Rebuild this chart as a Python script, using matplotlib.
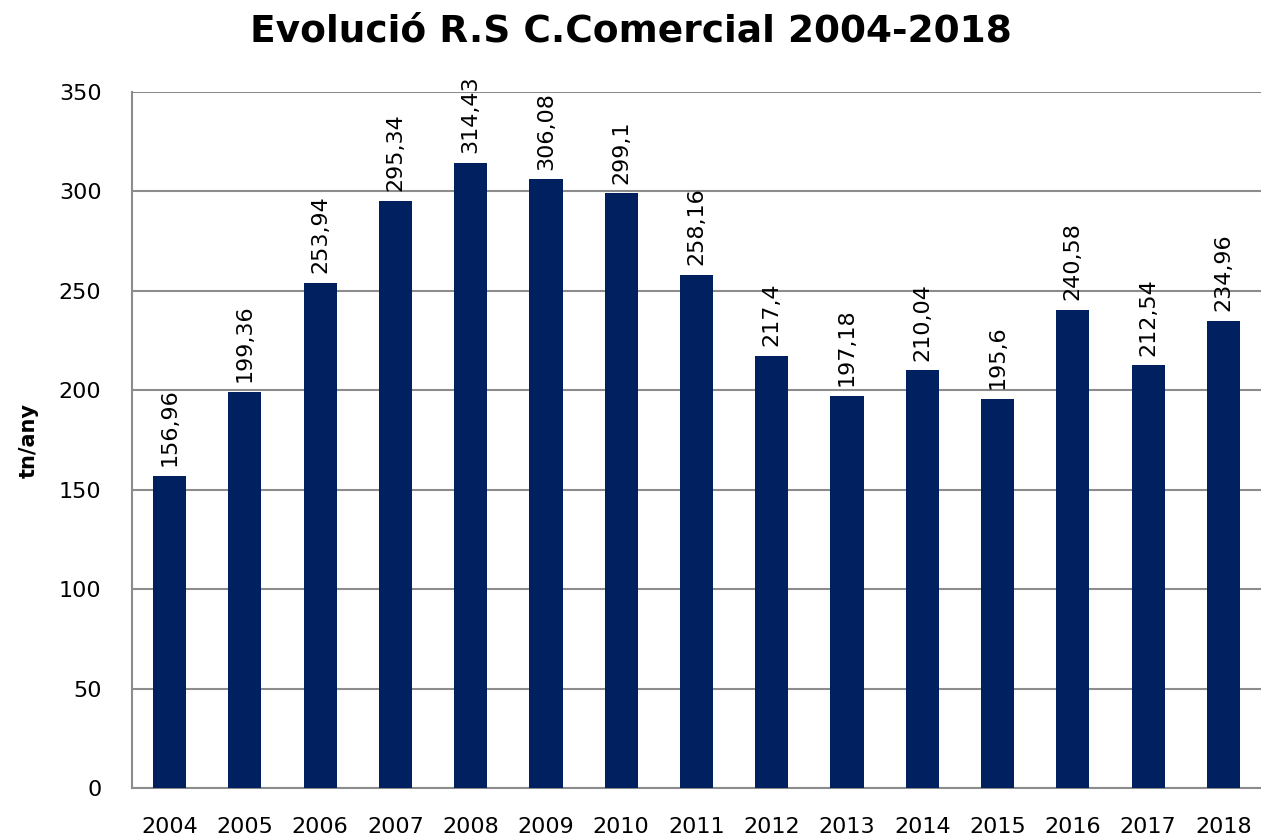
import matplotlib
matplotlib.use("Agg")
import matplotlib.pyplot as plt

years = ["2004", "2005", "2006", "2007", "2008", "2009", "2010", "2011",
         "2012", "2013", "2014", "2015", "2016", "2017", "2018"]
values = [156.96, 199.36, 253.94, 295.34, 314.43, 306.08, 299.1, 258.16,
          217.4, 197.18, 210.04, 195.6, 240.58, 212.54, 234.96]
labels = ["156,96", "199,36", "253,94", "295,34", "314,43", "306,08", "299,1", "258,16",
          "217,4", "197,18", "210,04", "195,6", "240,58", "212,54", "234,96"]
yticks = [0, 50, 100, 150, 200, 250, 300, 350]

plt.rcParams['font.family'] = ['DejaVu Sans']
fig = plt.figure(figsize=(12.61, 8.39), dpi=100)
ax = fig.add_axes([0.1047, 0.0608, 0.8953, 0.8295])

x = range(len(years))
bars = ax.bar(x, values, width=0.44, color="#002060", zorder=3)
for xi, v, lab in zip(x, values, labels):
    ax.annotate(lab, (xi, v), xytext=(0, 7), textcoords="offset points",
                rotation=90, ha="center", va="bottom", fontsize=16, color="#000000")

ax.set_xlim(-0.5, 14.5)
ax.set_ylim(0, 350)
ax.set_yticks(yticks)
ax.set_xticks(list(x))
ax.set_xticklabels(years)
ax.tick_params(axis="both", length=0, labelsize=16, colors="#000000")
ax.tick_params(axis="y", pad=22)
ax.tick_params(axis="x", pad=21)
ax.yaxis.grid(True, color="#8c8c8c", linewidth=1.5, zorder=0)
for s in ["top", "right"]:
    ax.spines[s].set_visible(False)
for s in ["left", "bottom"]:
    ax.spines[s].set_color("#8c8c8c")
    ax.spines[s].set_linewidth(1.5)
ax.set_ylabel("tn/any", fontsize=15, fontweight="bold")
ax.yaxis.set_label_coords(-0.083, 0.5)
fig.text(0.5, 0.962, "Evolució R.S C.Comercial 2004-2018", ha="center", va="center",
         fontsize=27, fontweight="bold")

fig.savefig("out.png", dpi=100)
